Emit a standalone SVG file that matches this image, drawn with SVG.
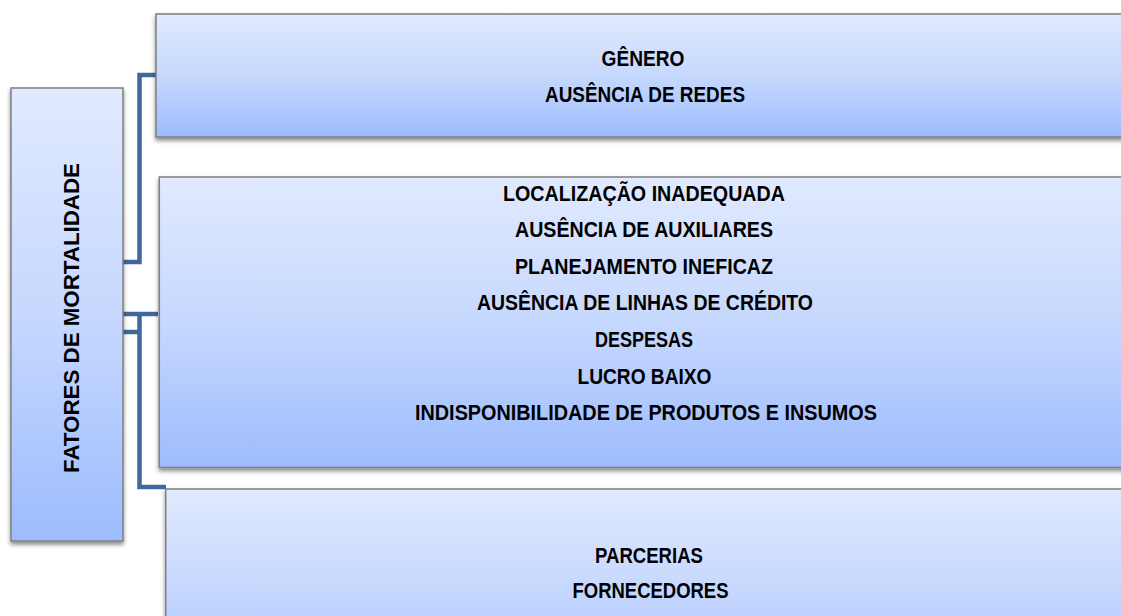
<svg xmlns="http://www.w3.org/2000/svg" width="1121" height="616" viewBox="0 0 1121 616">
  <defs>
    <linearGradient id="boxFill" x1="0" y1="0" x2="0" y2="1">
      <stop offset="0" stop-color="#e1eafe"/>
      <stop offset="0.5" stop-color="#c6d8fe"/>
      <stop offset="1" stop-color="#9dbcfd"/>
    </linearGradient>
    <filter id="shadow" x="-10%" y="-10%" width="120%" height="130%">
      <feDropShadow dx="0" dy="3" stdDeviation="2.2" flood-color="#000" flood-opacity="0.45"/>
    </filter>
  </defs>
  <style>
    .box { fill: url(#boxFill); stroke: #7f7f7f; stroke-width: 1.5; filter: url(#shadow); }
    .conn { fill: none; stroke: #41689c; stroke-width: 4.5; stroke-linejoin: miter; stroke-linecap: butt; }
    .lbl { font-family: "Liberation Sans", Arial, sans-serif; font-weight: bold; font-size: 21.5px; fill: #000; text-anchor: middle; }
  </style>
  <rect width="1121" height="616" fill="#ffffff"/>

  <g id="connectors">
    <path class="conn" d="M123,262 H139.5 V75 H158"/>
    <path class="conn" d="M123,314 H158"/>
    <path class="conn" d="M123,332 H139.5"/>
    <path class="conn" d="M139.5,314 V487 H166"/>
  </g>

  <g id="node-fatores">
    <rect class="box" x="11" y="88" width="112" height="453"/>
    <text class="lbl" transform="translate(78.5,318) rotate(-90)" textLength="310" lengthAdjust="spacingAndGlyphs">FATORES DE MORTALIDADE</text>
  </g>

  <g id="node-top">
    <rect class="box" x="156" y="14" width="1000" height="123"/>
    <text class="lbl" x="643" y="65.5" textLength="83" lengthAdjust="spacingAndGlyphs">GÊNERO</text>
    <text class="lbl" x="645" y="102" textLength="200" lengthAdjust="spacingAndGlyphs">AUSÊNCIA DE REDES</text>
  </g>

  <g id="node-middle">
    <rect class="box" x="159.3" y="177" width="1000" height="290.5"/>
    <text class="lbl" x="644" y="200.5" textLength="282" lengthAdjust="spacingAndGlyphs">LOCALIZAÇÃO INADEQUADA</text>
    <text class="lbl" x="644" y="237" textLength="258" lengthAdjust="spacingAndGlyphs">AUSÊNCIA DE AUXILIARES</text>
    <text class="lbl" x="644" y="273.5" textLength="258" lengthAdjust="spacingAndGlyphs">PLANEJAMENTO INEFICAZ</text>
    <text class="lbl" x="645" y="310.3" textLength="336" lengthAdjust="spacingAndGlyphs">AUSÊNCIA DE LINHAS DE CRÉDITO</text>
    <text class="lbl" x="644" y="347" textLength="98" lengthAdjust="spacingAndGlyphs">DESPESAS</text>
    <text class="lbl" x="644.5" y="383.6" textLength="134" lengthAdjust="spacingAndGlyphs">LUCRO BAIXO</text>
    <text class="lbl" x="646" y="420.3" textLength="462" lengthAdjust="spacingAndGlyphs">INDISPONIBILIDADE DE PRODUTOS E INSUMOS</text>
  </g>

  <g id="node-bottom">
    <rect class="box" x="165.7" y="489" width="1000" height="200"/>
    <text class="lbl" x="649" y="563.3" textLength="108" lengthAdjust="spacingAndGlyphs">PARCERIAS</text>
    <text class="lbl" x="650.5" y="598.3" textLength="156" lengthAdjust="spacingAndGlyphs">FORNECEDORES</text>
  </g>
</svg>
